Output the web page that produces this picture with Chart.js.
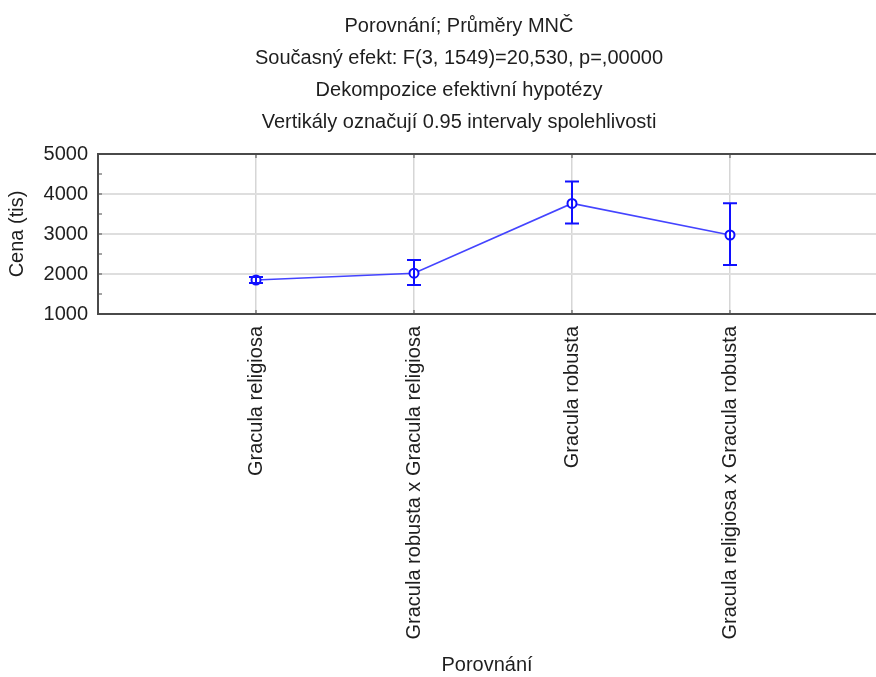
<!DOCTYPE html>
<html>
<head>
<meta charset="utf-8">
<script src="https://cdn.jsdelivr.net/npm/chart.js@4/dist/chart.umd.min.js"></script>
<style>
html, body { margin: 0; padding: 0; background: #fff; overflow: hidden; }
#wrap { position: absolute; left: 0; top: 0; width: 918px; height: 677px; }
</style>
</head>
<body>
<div id="wrap"><canvas id="c"></canvas></div>
<script>
const categories = ['Gracula religiosa', 'Gracula robusta x Gracula religiosa', 'Gracula robusta', 'Gracula religiosa x Gracula robusta'];
const means = [1850, 2020, 3765, 2975];
const lowerCI = [1775, 1725, 3265, 2225];
const upperCI = [1925, 2350, 4310, 3770];
const titleLines = ['Porovnání; Průměry MNČ', 'Současný efekt: F(3, 1549)=20,530, p=,00000', 'Dekompozice efektivní hypotézy', 'Vertikály označují 0.95 intervaly spolehlivosti'];
const yTitle = 'Cena (tis)';
const xTitle = 'Porovnání';

const FONT = "'Liberation Sans', Arial, sans-serif";
const TXT = '#1e1e1e';

const points = means.map((m, i) => ({ x: i + 1, y: m }));

const errorBars = {
  id: 'errorBars',
  afterDatasetsDraw(chart) {
    const ctx = chart.ctx, xs = chart.scales.x, ys = chart.scales.y;
    ctx.save();
    ctx.strokeStyle = '#1010ff';
    ctx.lineWidth = 2;
    for (let i = 0; i < means.length; i++) {
      const px = xs.getPixelForValue(i + 1);
      const pl = ys.getPixelForValue(lowerCI[i]);
      const pu = ys.getPixelForValue(upperCI[i]);
      ctx.beginPath();
      ctx.moveTo(px, pl); ctx.lineTo(px, pu);
      ctx.moveTo(px - 7, pl); ctx.lineTo(px + 7, pl);
      ctx.moveTo(px - 7, pu); ctx.lineTo(px + 7, pu);
      ctx.stroke();
    }
    ctx.restore();
  }
};

const frame = {
  id: 'frame',
  afterDraw(chart) {
    const ctx = chart.ctx, a = chart.chartArea, xs = chart.scales.x, ys = chart.scales.y;
    ctx.save();
    ctx.strokeStyle = '#4a4a4a';
    ctx.lineWidth = 2;
    ctx.beginPath();
    ctx.moveTo(a.left - 1, a.top); ctx.lineTo(a.right, a.top);
    ctx.stroke();
    ctx.lineWidth = 1;
    ctx.beginPath();
    for (let v = 1500; v < 5000; v += 500) {
      const py = ys.getPixelForValue(v);
      ctx.moveTo(a.left, py); ctx.lineTo(a.left + 4, py);
    }
    for (let i = 1; i <= categories.length; i++) {
      const px = xs.getPixelForValue(i);
      ctx.moveTo(px, a.bottom); ctx.lineTo(px, a.bottom - 4);
      ctx.moveTo(px, a.top); ctx.lineTo(px, a.top + 4);
    }
    ctx.stroke();
    ctx.restore();
  }
};

new Chart(document.getElementById('c'), {
  type: 'line',
  data: {
    datasets: [{
      data: points,
      borderColor: '#4444ff',
      borderWidth: 1.6,
      pointRadius: 4.5,
      pointBorderWidth: 2,
      pointBorderColor: '#1010ff',
      pointBackgroundColor: '#ffffff',
      tension: 0,
      fill: false
    }]
  },
  options: {
    responsive: true,
    maintainAspectRatio: false,
    animation: false,
    layout: { padding: { left: 42, right: 42, top: 0, bottom: 0 } },
    plugins: {
      legend: { display: false },
      tooltip: { enabled: false },
      title: {
        display: true,
        text: titleLines,
        color: TXT,
        font: { family: FONT, size: 20, weight: 'normal', lineHeight: 1.6 },
        padding: { top: 10, bottom: 16 }
      }
    },
    scales: {
      x: {
        type: 'linear',
        min: 0,
        max: 778 / 158,
        afterBuildTicks(scale) {
          scale.ticks = categories.map((c, i) => ({ value: i + 1 }));
        },
        afterFit(scale) { scale.height = 363; },
        ticks: {
          autoSkip: false,
          minRotation: 90,
          maxRotation: 90,
          padding: 12,
          color: TXT,
          font: { family: FONT, size: 20 },
          callback: (v) => categories[v - 1] || ''
        },
        grid: { color: '#d6d6d6', lineWidth: 1.5, drawTicks: false },
        border: { color: '#4a4a4a', width: 2 },
        title: {
          display: true,
          text: xTitle,
          color: TXT,
          font: { family: FONT, size: 20 },
          padding: { top: 0, bottom: 0 }
        }
      },
      y: {
        min: 1000,
        max: 5000,
        afterFit(scale) { scale.width = 56; },
        ticks: {
          stepSize: 500,
          padding: 10,
          color: TXT,
          font: { family: FONT, size: 20 },
          callback: (v) => (v % 1000 === 0 ? String(v) : '')
        },
        grid: { color: '#dedede', lineWidth: 2, drawTicks: false },
        border: { color: '#4a4a4a', width: 2 },
        title: {
          display: true,
          text: yTitle,
          color: TXT,
          font: { family: FONT, size: 20 },
          padding: { top: -37, bottom: 0 }
        }
      }
    }
  },
  plugins: [errorBars, frame]
});
</script>
</body>
</html>
